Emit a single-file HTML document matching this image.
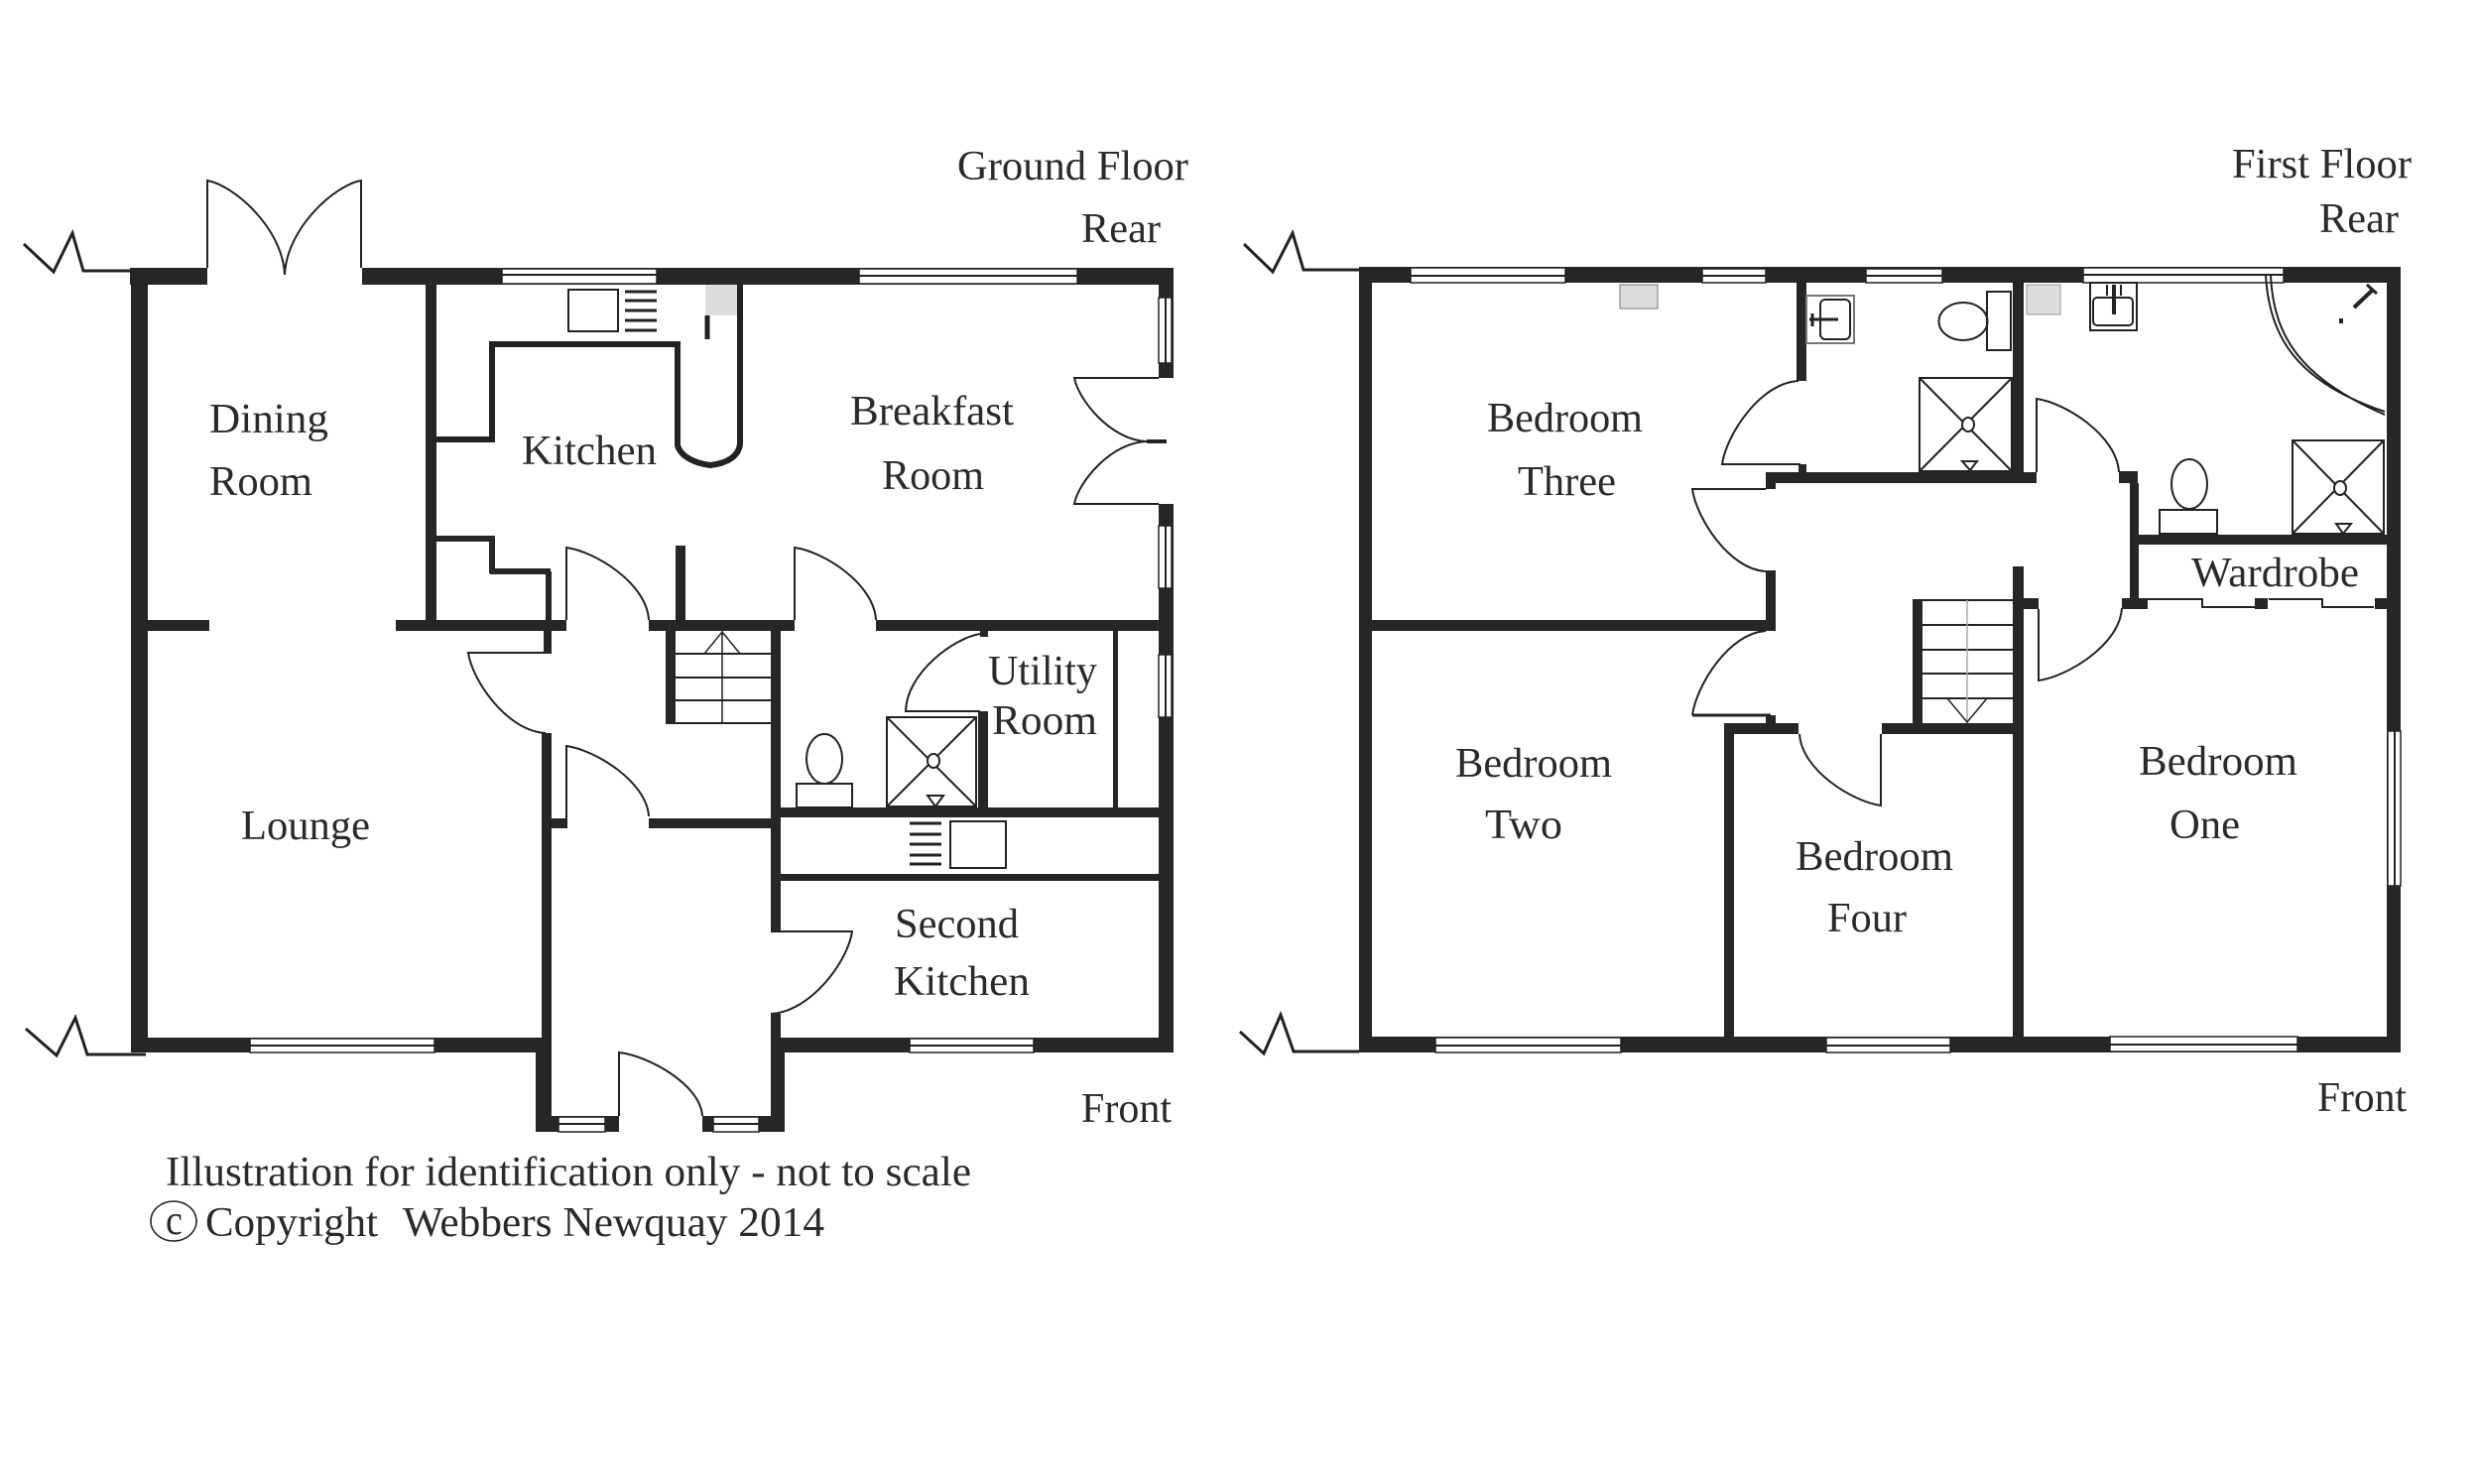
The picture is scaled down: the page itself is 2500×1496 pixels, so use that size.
<!DOCTYPE html>
<html><head><meta charset="utf-8"><style>html,body{margin:0;padding:0;background:#fff}svg{display:block}
text{font-family:"Liberation Serif",serif;font-size:42px;fill:#2a2a2a}</style></head><body>
<svg width="2500" height="1496" viewBox="0 0 2500 1496" xmlns="http://www.w3.org/2000/svg">
<rect width="2500" height="1496" fill="#fff"/>
<!-- GROUND FLOOR walls -->
<g fill="#262626">
<rect x="131" y="270" width="78" height="17"/><rect x="365" y="270" width="818" height="17"/>
<rect x="132" y="270" width="17" height="791"/>
<rect x="1168" y="270" width="15" height="111"/><rect x="1168" y="508" width="15" height="553"/>
<rect x="429" y="287" width="11" height="340"/>
<rect x="149" y="625" width="62" height="11"/><rect x="399" y="625" width="172" height="11"/><rect x="654" y="625" width="147" height="11"/><rect x="883" y="625" width="285" height="11"/>
<rect x="550" y="576" width="6" height="49"/><rect x="548" y="636" width="8" height="23"/><rect x="546" y="739" width="10" height="322"/>
<rect x="555" y="825" width="16" height="10"/><rect x="654" y="825" width="123" height="10"/>
<rect x="681" y="550" width="10" height="75"/><rect x="671" y="636" width="10" height="94"/>
<rect x="777" y="636" width="10" height="303"/><rect x="777" y="1022" width="10" height="40"/>
<rect x="787" y="814" width="381" height="10"/><rect x="787" y="881" width="381" height="7"/>
<rect x="986" y="717" width="10" height="97"/><rect x="988" y="636" width="8" height="6"/><rect x="1122" y="636" width="5" height="178"/>
<rect x="149" y="1046" width="397" height="15"/><rect x="787" y="1046" width="396" height="15"/>
<rect x="540" y="1046" width="16" height="95"/><rect x="777" y="1046" width="14" height="95"/>
<rect x="540" y="1125" width="84" height="16"/><rect x="708" y="1125" width="83" height="16"/>
<rect x="440" y="540" width="58" height="6"/><rect x="493" y="540" width="6" height="38"/><rect x="494" y="573" width="61" height="6"/>
</g>
<!-- Ground windows -->
<g fill="#fff" stroke="#222" stroke-width="1.5">
<rect x="506" y="271" width="156" height="15"/><rect x="866" y="271" width="220" height="15"/>
<rect x="252" y="1047" width="186" height="14"/><rect x="917" y="1047" width="125" height="14"/>
<rect x="563" y="1126" width="47" height="15"/><rect x="719" y="1126" width="46" height="15"/>
<rect x="1168" y="300" width="13" height="66"/><rect x="1168" y="530" width="13" height="63"/><rect x="1168" y="660" width="13" height="63"/>
</g>
<g stroke="#222" stroke-width="2" fill="none">
<path d="M506 277H662M866 278H1086M252 1054H438M917 1054H1042M563 1133H610M719 1133H765M1175 300V366M1175 530V593M1175 660V723"/>
</g>
<g fill="none" stroke="#222" stroke-width="2">
<!-- breaks -->
<path d="M24 246L54 274L73 235L84 273H132" stroke-width="3"/>
<path d="M26 1037L57 1064L76 1026L88 1063H147" stroke-width="3"/>
<!-- french doors top -->
<path d="M209 270V182C236 187 285 230 287 277M364 270V182C337 187 289 230 287 277"/>
<!-- side french doors -->
<path d="M1168 381H1083C1087 403 1120 444 1156 445"/>
<path d="M1168 508H1083C1087 486 1120 446 1156 445"/>
<path d="M1156 445H1176" stroke-width="4"/>
<!-- hall doors -->
<path d="M571 625V552C600 556 652 588 654 625"/>
<path d="M801 625V552C830 556 881 588 883 625"/>
<path d="M571 835V752C600 756 652 788 654 823"/>
<path d="M988 717H913C914 678 962 643 988 639"/>
<path d="M552 658H472C476 686 511 737 550 739"/>
<path d="M777 939H859C855 968 818 1020 777 1022"/>
<path d="M624 1125V1061C653 1064 706 1093 708 1125"/>
<!-- stairs -->
<path d="M681 659H777M681 683H777M681 706H777M681 729H777"/>
<path d="M728 636V729M710 659L728 637L746 659" stroke-width="1.5"/>
<!-- kitchen counter -->
<path d="M440 443H496V347H683V449C686 460 700 467 716 469C733 467 745 460 746 447V287" stroke-width="6"/>
<path d="M713 318V342" stroke-width="5"/>
<!-- hob -->
<rect x="573" y="292" width="50" height="42"/>
<path d="M630 294H662M630 303H662M630 313H662M630 323H662M630 333H662" stroke-width="3"/>
<rect x="958" y="828" width="56" height="47"/>
<path d="M917 830H949M917 841H949M917 851H949M917 862H949M917 871H949" stroke-width="3"/>
<!-- wc -->
<ellipse cx="831" cy="765" rx="18" ry="25"/><rect x="803" y="790" width="56" height="24"/>
<!-- shower -->
<rect x="894" y="723" width="90" height="90"/><path d="M894 723L984 813M984 723L894 813"/><ellipse cx="941" cy="767" rx="6" ry="7" fill="#fff"/><path d="M935 802H951L943 813Z"/>
</g>
<rect x="711" y="287" width="32" height="31" fill="#ddd"/>
<!-- FIRST FLOOR walls -->
<g fill="#262626">
<rect x="1370" y="269" width="1050" height="16"/>
<rect x="1370" y="269" width="13" height="791"/>
<rect x="2406" y="269" width="14" height="792"/>
<rect x="1370" y="1045" width="1050" height="16"/>
<rect x="1811" y="285" width="10" height="99"/><rect x="1813" y="468" width="8" height="9"/>
<rect x="2029" y="285" width="11" height="191"/>
<rect x="1780" y="476" width="273" height="11"/><rect x="1780" y="476" width="10" height="17"/>
<rect x="1780" y="575" width="10" height="60"/>
<rect x="1370" y="625" width="420" height="11"/>
<rect x="1738" y="729" width="75" height="11"/><rect x="1780" y="721" width="10" height="9"/>
<rect x="1897" y="729" width="143" height="11"/>
<rect x="1738" y="729" width="10" height="317"/>
<rect x="2029" y="571" width="11" height="475"/><rect x="2040" y="603" width="15" height="11"/>
<rect x="1928" y="604" width="10" height="126"/>
<rect x="2136" y="475" width="19" height="12"/><rect x="2147" y="487" width="9" height="117"/><rect x="2139" y="603" width="26" height="11"/>
<rect x="2147" y="539" width="259" height="10"/>
<rect x="2273" y="603" width="13" height="11"/><rect x="2394" y="603" width="12" height="11"/>
</g>
<g fill="#fff" stroke="#222" stroke-width="1.5">
<rect x="1422" y="270" width="156" height="15"/><rect x="1716" y="271" width="64" height="14"/><rect x="1881" y="271" width="77" height="14"/><rect x="2100" y="270" width="202" height="15"/>
<rect x="1447" y="1046" width="187" height="15"/><rect x="1841" y="1046" width="125" height="15"/><rect x="2127" y="1045" width="189" height="15"/>
<rect x="2407" y="737" width="13" height="156"/>
</g>
<g fill="none" stroke="#222" stroke-width="2">
<path d="M1422 278H1578M1716 278H1780M1881 278H1958M2100 277H2302M1447 1054H1634M1841 1054H1966M2127 1053H2316M2414 737V893"/>
<path d="M1254 246L1283 274L1303 235L1314 272H1370" stroke-width="3"/>
<path d="M1250 1040L1274 1062L1291 1023L1304 1060H1370" stroke-width="3"/>
<!-- doors -->
<path d="M1815 468H1736C1740 439 1774 386 1813 384"/>
<path d="M1780 493H1706C1710 522 1743 574 1780 576"/>
<path d="M1780 636C1743 638 1710 691 1706 721"/>
<path d="M1706 721H1785" stroke-width="3"/>
<path d="M1814 740C1816 776 1867 808 1896 812V740"/>
<path d="M2139 613C2137 650 2084 682 2055 686V614"/>
<path d="M2053 476V402C2082 406 2134 439 2136 476"/>
<!-- stairs -->
<path d="M1938 605H2029M1938 630H2029M1938 655H2029M1938 679H2029M1938 704H2029"/>
<path d="M1983 605V729" stroke="#aaa" stroke-width="1.5"/>
<path d="M1963 704L1983 728L2003 704" stroke-width="1.5"/>
<!-- wardrobe sliders -->
<path d="M2165 604H2220V612H2273M2287 604H2341V612H2393" stroke-width="2"/>
<!-- bathroom fittings -->
<rect x="1821" y="298" width="48" height="48" stroke="#777"/><rect x="1835" y="302" width="30" height="40" rx="5"/>
<path d="M1824 322H1853M1827 316V329" stroke-width="3"/>
<rect x="2003" y="294" width="24" height="59"/><ellipse cx="1979" cy="324" rx="24.5" ry="19"/>
<rect x="1935" y="381" width="93" height="94"/><path d="M1935 381L2028 475M2028 381L1935 475"/><ellipse cx="1984" cy="428" rx="6" ry="7" fill="#fff"/><path d="M1978 465H1993L1986 474Z"/>
<rect x="2107" y="285" width="47" height="48"/><rect x="2110" y="300" width="40" height="28" rx="4"/>
<path d="M2131 287V317" stroke-width="4"/><path d="M2124 287V298M2138 287V298" stroke-width="2"/>
<path d="M2284 278C2288 340 2315 385 2404 415M2289 278C2292 340 2320 382 2404 418"/>
<path d="M2373 310L2392 292" stroke-width="4"/><path d="M2386 287L2396 296" stroke-width="3"/>
<rect x="2358" y="321" width="4" height="5" fill="#222" stroke="none"/>
<rect x="2311" y="444" width="92" height="94"/><path d="M2311 444L2403 538M2403 444L2311 538"/><ellipse cx="2359" cy="492" rx="6" ry="7" fill="#fff"/><path d="M2355 528H2370L2362 538Z"/>
<ellipse cx="2207" cy="488" rx="18" ry="25"/><rect x="2177" y="514" width="58" height="24"/>
</g>
<rect x="1633" y="287" width="38" height="24" fill="#ddd" stroke="#777"/>
<rect x="2043" y="287" width="34" height="30" fill="#ddd" stroke="#999"/>
<!-- copyright circle -->
<ellipse cx="175" cy="1231" rx="23" ry="20" fill="none" stroke="#222" stroke-width="1.5"/>
<!-- Labels -->
<g>
<text x="965" y="181" textLength="233" lengthAdjust="spacingAndGlyphs">Ground Floor</text>
<text x="1090" y="244" textLength="80" lengthAdjust="spacingAndGlyphs">Rear</text>
<text x="211" y="436" textLength="120" lengthAdjust="spacingAndGlyphs">Dining</text>
<text x="211" y="499" textLength="104" lengthAdjust="spacingAndGlyphs">Room</text>
<text x="526" y="468" textLength="136" lengthAdjust="spacingAndGlyphs">Kitchen</text>
<text x="857" y="428" textLength="165" lengthAdjust="spacingAndGlyphs">Breakfast</text>
<text x="889" y="493" textLength="103" lengthAdjust="spacingAndGlyphs">Room</text>
<text x="996" y="690" textLength="110" lengthAdjust="spacingAndGlyphs">Utility</text>
<text x="1000" y="740" textLength="106" lengthAdjust="spacingAndGlyphs">Room</text>
<text x="243" y="846" textLength="130" lengthAdjust="spacingAndGlyphs">Lounge</text>
<text x="902" y="945" textLength="125" lengthAdjust="spacingAndGlyphs">Second</text>
<text x="901" y="1003" textLength="137" lengthAdjust="spacingAndGlyphs">Kitchen</text>
<text x="1090" y="1131" textLength="91" lengthAdjust="spacingAndGlyphs">Front</text>
<text x="167" y="1195" textLength="812" lengthAdjust="spacingAndGlyphs">Illustration for identification only - not to scale</text>
<text x="167" y="1244" textLength="17" lengthAdjust="spacingAndGlyphs">c</text>
<text x="207" y="1246" textLength="174" lengthAdjust="spacingAndGlyphs">Copyright</text>
<text x="406" y="1246" textLength="425" lengthAdjust="spacingAndGlyphs">Webbers Newquay 2014</text>
<text x="2250" y="179" textLength="181" lengthAdjust="spacingAndGlyphs">First Floor</text>
<text x="2338" y="234" textLength="80" lengthAdjust="spacingAndGlyphs">Rear</text>
<text x="1499" y="435" textLength="157" lengthAdjust="spacingAndGlyphs">Bedroom</text>
<text x="1530" y="499" textLength="99" lengthAdjust="spacingAndGlyphs">Three</text>
<text x="2209" y="591" textLength="169" lengthAdjust="spacingAndGlyphs">Wardrobe</text>
<text x="1467" y="783" textLength="158" lengthAdjust="spacingAndGlyphs">Bedroom</text>
<text x="1497" y="845" textLength="78" lengthAdjust="spacingAndGlyphs">Two</text>
<text x="1810" y="877" textLength="159" lengthAdjust="spacingAndGlyphs">Bedroom</text>
<text x="1842" y="939" textLength="80" lengthAdjust="spacingAndGlyphs">Four</text>
<text x="2156" y="781" textLength="160" lengthAdjust="spacingAndGlyphs">Bedroom</text>
<text x="2187" y="845" textLength="71" lengthAdjust="spacingAndGlyphs">One</text>
<text x="2336" y="1120" textLength="90" lengthAdjust="spacingAndGlyphs">Front</text>
</g>
</svg>
</body></html>
